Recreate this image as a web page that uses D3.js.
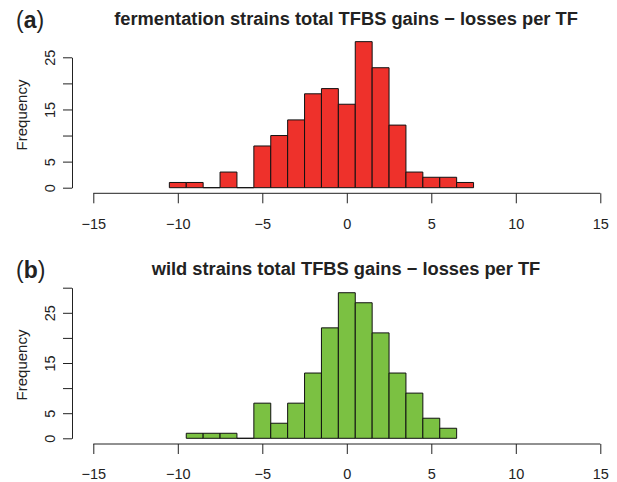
<!DOCTYPE html>
<html lang="en">
<head>
<meta charset="UTF-8">
<title>TFBS gains - losses per TF</title>
<script src="https://d3js.org/d3.v7.min.js"></script>
<style>
    body { margin: 0; background: #fff; }
    svg { font-family: "Liberation Sans", Arial, sans-serif; }
    .axis path, .axis line { stroke: #222; stroke-width: 1; }
    .axis text { fill: #222; font-size: 14.5px; }
</style>
</head>
<body>
<script>
// histogram bins (centres, width 1) and counts
const fermBins   = [-10, -9, -8, -7, -6, -5, -4, -3, -2, -1, 0, 1, 2, 3, 4, 5, 6, 7];
const fermCounts = [1, 1, 0, 3, 0, 8, 10, 13, 18, 19, 16, 28, 23, 12, 3, 2, 2, 1];
const wildBins   = [-9, -8, -7, -6, -5, -4, -3, -2, -1, 0, 1, 2, 3, 4, 5, 6];
const wildCounts = [1, 1, 1, 0, 7, 3, 7, 13, 22, 29, 27, 21, 13, 9, 4, 2];

const xTicks = [-15, -10, -5, 0, 5, 10, 15];
const yTicksA = [0, 5, 10, 15, 20, 25];
const yTicksB = [0, 5, 10, 15, 20, 25, 30];
const yLabels = [0, 5, 15, 25];

const panels = [
    { tag: "a", title: "fermentation strains total TFBS gains \u2212 losses per TF",
      bins: fermBins, counts: fermCounts, color: "#ee312b",
      yMax: 25, yTicks: yTicksA, top: 0, y0: 187.7, y1: 57.3, axisY: 193.3 },
    { tag: "b", title: "wild strains total TFBS gains \u2212 losses per TF",
      bins: wildBins, counts: wildCounts, color: "#7bc142",
      yMax: 30, yTicks: yTicksB, top: 250, y0: 438.3, y1: 287.7, axisY: 444 }
];

const width = 617, height = 482;
const svg = d3.select("body").append("svg")
    .attr("width", width)
    .attr("height", height);

const x = d3.scaleLinear().domain([-15, 15]).range([93.3, 600.3]);

panels.forEach(p => {
    const y = d3.scaleLinear().domain([0, p.yMax]).range([p.y0, p.y1]);
    const g = svg.append("g");

    // bars as closed paths so empty bins still show as a line on the baseline
    g.selectAll("path.bar")
        .data(p.bins.map((b, i) => ({ b: b, n: p.counts[i] })))
        .enter().append("path")
        .attr("class", "bar")
        .attr("d", d => {
            const x0 = x(d.b - 0.5), x1 = x(d.b + 0.5);
            return "M" + x0 + "," + y(0) + "V" + y(d.n) + "H" + x1 + "V" + y(0) + "Z";
        })
        .attr("fill", p.color)
        .attr("stroke", "#111")
        .attr("stroke-width", 1);

    // x axis
    g.append("g")
        .attr("class", "axis")
        .attr("transform", "translate(0," + p.axisY + ")")
        .call(d3.axisBottom(x).tickValues(xTicks).tickSize(10).tickSizeOuter(0).tickPadding(15))
        .call(a => a.select(".domain").attr("d", "M" + x(-15) + ",0H" + x(15)));

    // y axis with labels parallel to the axis
    g.append("g")
        .attr("class", "axis")
        .attr("transform", "translate(72,0)")
        .call(d3.axisLeft(y).tickValues(p.yTicks).tickSize(9).tickSizeOuter(0)
            .tickFormat(d => yLabels.includes(d) ? d : ""))
        .selectAll("text")
        .attr("x", 0).attr("dy", 0)
        .attr("text-anchor", "middle")
        .attr("transform", "translate(-17,0) rotate(-90)");

    g.append("text")
        .attr("transform", "translate(27," + (p.top + 115) + ") rotate(-90)")
        .attr("text-anchor", "middle")
        .attr("fill", "#222")
        .style("font-size", "15px")
        .text("Frequency");

    // title
    g.append("text")
        .attr("x", 346)
        .attr("y", p.top + 25)
        .attr("text-anchor", "middle")
        .attr("fill", "#222")
        .style("font-size", "18.3px")
        .style("font-weight", "bold")
        .text(p.title);

    // panel tag
    const tag = g.append("text")
        .attr("x", 16)
        .attr("y", p.top + 28)
        .attr("fill", "#222")
        .style("font-size", "23px");
    tag.append("tspan").text("(");
    tag.append("tspan").style("font-weight", "bold").text(p.tag);
    tag.append("tspan").text(")");
});
</script>
</body>
</html>
